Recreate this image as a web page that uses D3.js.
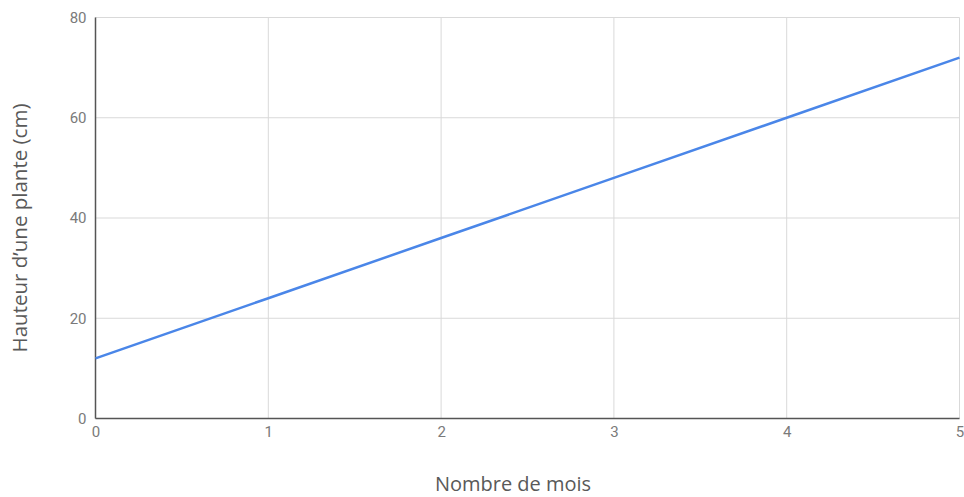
<!DOCTYPE html>
<html>
<head>
<meta charset="utf-8">
<script src="https://cdn.jsdelivr.net/npm/d3@7"></script>
<style>
  body { margin: 0; background: #fff; }
</style>
</head>
<body>
<div id="chart"></div>
<script>
// data
var mois = [0, 1, 2, 3, 4, 5];
var hauteur = [12, 24, 36, 48, 60, 72];
var xTicks = [0, 1, 2, 3, 4, 5];
var yTicks = [0, 20, 40, 60, 80];

var W = 964, H = 497;
var margin = {top: 17.5, right: 4.5, bottom: 78.5, left: 95.5},
    width = W - margin.left - margin.right,
    height = H - margin.top - margin.bottom;

var svg = d3.select("#chart")
  .append("svg")
    .attr("width", W)
    .attr("height", H)
  .append("g")
    .attr("transform", "translate(" + margin.left + "," + margin.top + ")");

var x = d3.scaleLinear().domain([0, 5]).range([0, width]);
var y = d3.scaleLinear().domain([0, 80]).range([height, 0]);

// grid
svg.append("g")
  .selectAll("line")
  .data(yTicks)
  .join("line")
    .attr("x1", 0).attr("x2", width)
    .attr("y1", function(d) { return y(d); })
    .attr("y2", function(d) { return y(d); })
    .attr("stroke", "#d9d9d9")
    .attr("stroke-width", 1);
svg.append("g")
  .selectAll("line")
  .data(xTicks)
  .join("line")
    .attr("x1", function(d) { return x(d); })
    .attr("x2", function(d) { return x(d); })
    .attr("y1", 0).attr("y2", height)
    .attr("stroke", "#d9d9d9")
    .attr("stroke-width", 1);

// axes (labels only, lines drawn separately)
var axis_x = svg.append("g")
  .attr("transform", "translate(0," + height + ")")
  .call(d3.axisBottom(x).tickValues(xTicks).tickSize(0).tickPadding(8).tickFormat(d3.format("d")));
axis_x.select(".domain").remove();
axis_x.selectAll(".tick text")
  .attr("font-size", 15)
  .attr("font-family", "Roboto")
  .attr("fill", "#7a7a7a");

var axis_y = svg.append("g")
  .call(d3.axisLeft(y).tickValues(yTicks).tickSize(0).tickPadding(9));
axis_y.select(".domain").remove();
axis_y.selectAll(".tick text")
  .attr("font-size", 15)
  .attr("font-family", "Roboto")
  .attr("fill", "#7a7a7a");

svg.append("line")
  .attr("x1", 0).attr("x2", 0).attr("y1", 0).attr("y2", height)
  .attr("stroke", "#555").attr("stroke-width", 1.5);
svg.append("line")
  .attr("x1", 0).attr("x2", width).attr("y1", height).attr("y2", height)
  .attr("stroke", "#555").attr("stroke-width", 1.5);

// the line
var pts = mois.map(function(m, i) { return {m: m, h: hauteur[i]}; });
svg.append("path")
  .datum(pts)
  .attr("fill", "none")
  .attr("stroke", "#4a86e8")
  .attr("stroke-width", 2.5)
  .attr("d", d3.line()
    .x(function(d) { return x(d.m); })
    .y(function(d) { return y(d.h); }));

// titles
svg.append("text")
  .attr("x", 513 - margin.left)
  .attr("y", 491 - margin.top)
  .attr("text-anchor", "middle")
  .attr("font-family", "Open Sans")
  .attr("font-size", 20)
  .attr("fill", "#595959")
  .text("Nombre de mois");

svg.append("text")
  .attr("transform", "translate(" + (27 - margin.left) + "," + (228 - margin.top) + ") rotate(-90)")
  .attr("text-anchor", "middle")
  .attr("font-family", "Open Sans")
  .attr("font-size", 20.5)
  .attr("fill", "#595959")
  .text("Hauteur d\u2019une plante (cm)");
</script>
</body>
</html>
